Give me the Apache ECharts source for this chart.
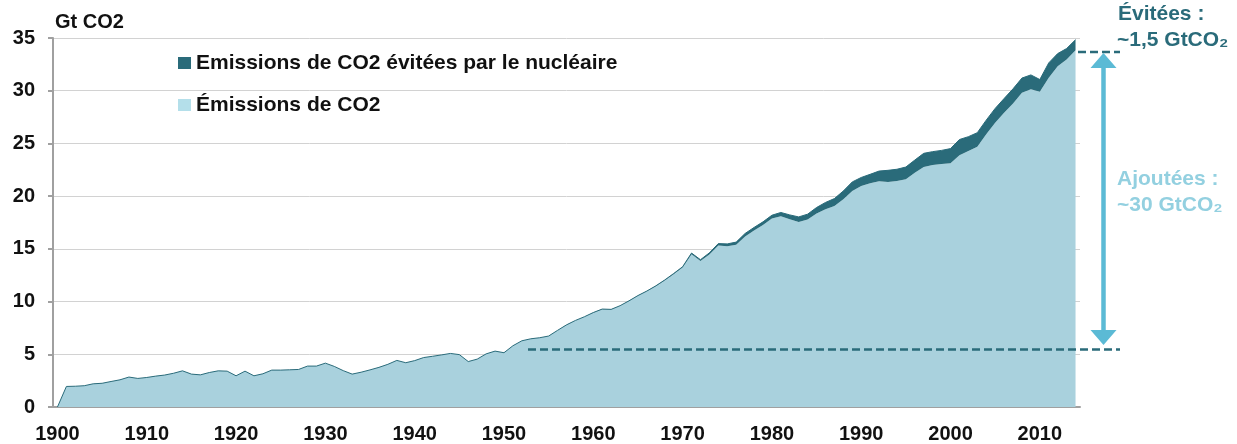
<!DOCTYPE html>
<html>
    <head>
        <meta charset="utf-8">
        <script src="https://cdn.jsdelivr.net/npm/echarts@6/dist/echarts.min.js"></script>
        <style>
            html, body { margin: 0; padding: 0; background: #fff; }
            #main { width: 1237px; height: 444px; }
        </style>
    </head>
    <body>
        <div id="main"></div>
        <script>
        // years 1900 .. 2014
        var years = [];
        for (var y = 1900; y <= 2014; y++) {
            years.push(String(y));
        }

        // Gt CO2
        var emissions = [
            0, 1.95, 1.97, 2.02, 2.2, 2.25, 2.42, 2.58, 2.84, 2.71,
            2.8, 2.93, 3.03, 3.2, 3.43, 3.12, 3.05, 3.27, 3.43, 3.4,
            2.96, 3.4, 2.96, 3.15, 3.5, 3.5, 3.53, 3.56, 3.88, 3.88,
            4.16, 3.85, 3.45, 3.12, 3.3, 3.52, 3.76, 4.05, 4.42, 4.2,
            4.4, 4.69, 4.81, 4.94, 5.08, 4.97, 4.31, 4.54, 5.04, 5.3,
            5.15, 5.81, 6.28, 6.47, 6.57, 6.73, 7.27, 7.78, 8.2, 8.55,
            8.95, 9.28, 9.25, 9.6, 10.05, 10.55, 10.97, 11.45, 12.0, 12.6,
            13.22, 14.5, 13.85, 14.47, 15.32, 15.25, 15.39, 16.18, 16.73, 17.26,
            17.87, 18.09, 17.82, 17.55, 17.79, 18.35, 18.76, 19.07, 19.7, 20.49,
            20.97, 21.22, 21.41, 21.35, 21.44, 21.6, 22.23, 22.76, 22.95, 23.05,
            23.11, 23.87, 24.28, 24.69, 25.86, 26.96, 27.9, 28.79, 29.8, 30.15,
            29.9, 31.22, 32.32, 32.95, 33.83
        ];

        var avoided = [
            0, 0, 0, 0, 0, 0, 0, 0, 0, 0,
            0, 0, 0, 0, 0, 0, 0, 0, 0, 0,
            0, 0, 0, 0, 0, 0, 0, 0, 0, 0,
            0, 0, 0, 0, 0, 0, 0, 0, 0, 0,
            0, 0, 0, 0, 0, 0, 0, 0, 0, 0,
            0, 0, 0, 0, 0, 0, 0, 0.01, 0.01, 0.01,
            0.01, 0.01, 0.01, 0.01, 0.02, 0.02, 0.03, 0.04, 0.05, 0.06,
            0.08, 0.1, 0.12, 0.15, 0.18, 0.22, 0.25, 0.28, 0.3, 0.3,
            0.32, 0.36, 0.4, 0.48, 0.5, 0.57, 0.64, 0.7, 0.79, 0.86,
            0.8, 0.85, 0.97, 1.1, 1.11, 1.16, 1.19, 1.3, 1.27, 1.29,
            1.4, 1.5, 1.36, 1.33, 1.35, 1.36, 1.36, 1.39, 1.4, 1.35,
            1.16, 1.42, 1.2, 1.05, 1.01
        ];

        var seriesNames = ['Emissions de CO2 évitées par le nucléaire', 'Émissions de CO2'];

        var FONT = '"Liberation Sans", Arial, sans-serif';
        var DARK = '#2a6b7a';
        var LIGHT = '#a9d1dd';
        var ARROW = '#5bbad5';

        var chart = echarts.init(document.getElementById('main'));

        var option = {
            animation: false,
            grid: {
                left: 53,
                right: 157,
                top: 38,
                bottom: 36
            },
            legend: {
                orient: 'vertical',
                left: 173,
                top: 47,
                icon: 'rect',
                itemWidth: 13,
                itemHeight: 12,
                itemGap: 20,
                textStyle: {
                    fontFamily: FONT,
                    fontWeight: 'bold',
                    fontSize: 21,
                    color: '#111',
                    lineHeight: 22
                },
                data: [
                    { name: seriesNames[0], itemStyle: { color: DARK } },
                    { name: seriesNames[1], itemStyle: { color: '#b4dfea' } }
                ]
            },
            xAxis: {
                type: 'category',
                data: years,
                boundaryGap: true,
                axisLine: { lineStyle: { color: '#a0a0a0', width: 2 } },
                axisTick: {
                    interval: 4,
                    length: 6,
                    lineStyle: { color: '#a0a0a0', width: 2 }
                },
                axisLabel: {
                    interval: 9,
                    color: '#111',
                    fontFamily: FONT,
                    fontWeight: 'bold',
                    fontSize: 20,
                    margin: 17
                },
                splitLine: { show: false }
            },
            yAxis: {
                type: 'value',
                min: 0,
                max: 35,
                interval: 5,
                axisLine: { show: true, lineStyle: { color: '#a0a0a0', width: 2 } },
                axisTick: { show: true, length: 5, lineStyle: { color: '#a0a0a0', width: 2 } },
                axisLabel: {
                    color: '#111',
                    fontFamily: FONT,
                    fontWeight: 'bold',
                    fontSize: 20,
                    margin: 18
                },
                splitLine: { lineStyle: { color: '#d2d2d2', width: 1 } }
            },
            series: [
                {
                    name: seriesNames[1],
                    type: 'line',
                    stack: 'total',
                    data: emissions,
                    symbol: 'none',
                    color: LIGHT,
                    lineStyle: { width: 0 },
                    areaStyle: { color: LIGHT, opacity: 1 }
                },
                {
                    name: seriesNames[0],
                    type: 'line',
                    stack: 'total',
                    data: avoided,
                    symbol: 'none',
                    color: DARK,
                    lineStyle: { width: 1, color: DARK },
                    areaStyle: { color: DARK, opacity: 1 }
                }
            ],
            graphic: [
                {
                    type: 'text', x: 55, y: 12, z: 100,
                    style: { text: 'Gt CO2', font: 'bold 20px ' + FONT, fill: '#111' }
                },
                // avoided part at the end
                {
                    type: 'line', z: 100,
                    shape: { x1: 1078, y1: 52, x2: 1120, y2: 52 },
                    style: { stroke: DARK, lineWidth: 2.5, lineDash: [8, 4] }
                },
                {
                    type: 'text', x: 1118, y: 14, z: 100,
                    style: { text: 'Évitées :', font: 'bold 21px ' + FONT, fill: DARK, textVerticalAlign: 'middle' }
                },
                {
                    type: 'text', x: 1117, y: 40, z: 100,
                    style: { text: '~1,5 GtCO₂', font: 'bold 21px ' + FONT, fill: DARK, textVerticalAlign: 'middle' }
                },
                // added since 1950s
                {
                    type: 'line', z: 100,
                    shape: { x1: 528, y1: 349.5, x2: 1120, y2: 349.5 },
                    style: { stroke: DARK, lineWidth: 2.5, lineDash: [8, 4] }
                },
                {
                    type: 'line', z: 100,
                    shape: { x1: 1103.5, y1: 64, x2: 1103.5, y2: 333 },
                    style: { stroke: ARROW, lineWidth: 4.5 }
                },
                {
                    type: 'polygon', z: 100,
                    shape: { points: [[1103.5, 53], [1090.5, 68], [1116.5, 68]] },
                    style: { fill: ARROW }
                },
                {
                    type: 'polygon', z: 100,
                    shape: { points: [[1103.5, 345], [1090.5, 330], [1116.5, 330]] },
                    style: { fill: ARROW }
                },
                {
                    type: 'text', x: 1117, y: 179, z: 100,
                    style: { text: 'Ajoutées :', font: 'bold 21px ' + FONT, fill: '#93d0e0', textVerticalAlign: 'middle' }
                },
                {
                    type: 'text', x: 1117, y: 205, z: 100,
                    style: { text: '~30 GtCO₂', font: 'bold 21px ' + FONT, fill: '#93d0e0', textVerticalAlign: 'middle' }
                }
            ]
        };

        chart.setOption(option);

        window.onresize = chart.resize;
        </script>
    </body>
</html>
